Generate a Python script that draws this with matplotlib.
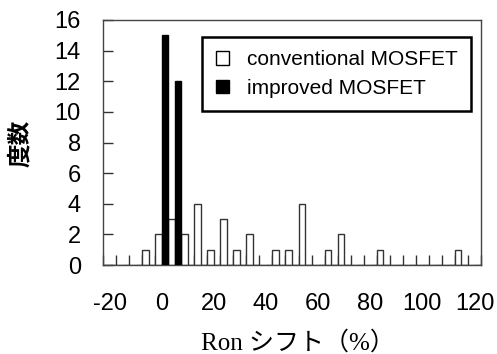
import matplotlib.pyplot as plt
from matplotlib.patches import Patch
import numpy as np

# Ron shift bins (%), 5% wide, -20 .. 120
shift_bins = np.arange(-20, 121, 5)
conventional = [0, 0, 0, 1, 2, 3, 2, 4, 1, 3, 1, 2, 0, 1, 1, 4,
                0, 1, 2, 0, 0, 1, 0, 0, 0, 0, 0, 1, 0]
improved = [0, 0, 0, 0, 15, 12, 0, 0, 0, 0, 0, 0, 0, 0, 0, 0,
            0, 0, 0, 0, 0, 0, 0, 0, 0, 0, 0, 0, 0]
x_labels = [-20, 0, 20, 40, 60, 80, 100, 120]
y_ticks = [0, 2, 4, 6, 8, 10, 12, 14, 16]

fig = plt.figure(figsize=(4.97, 3.54), dpi=100)
ax = fig.add_axes([103/497, 1 - 265/354, 378/497, 245/354])

step = 5
w = step / 2
ax.bar(shift_bins - w/2, conventional, width=w, facecolor='white',
       edgecolor='#333333', linewidth=1, zorder=2)
ax.bar(shift_bins + w/2, improved, width=w, facecolor='black',
       edgecolor='black', linewidth=1, zorder=3)

ax.set_xlim(shift_bins[0] - w, shift_bins[-1] + w)
ax.set_ylim(0, 16)

# tick marks between bins, pointing inwards
ax.set_xticks(np.append(shift_bins - w, shift_bins[-1] + w))
ax.tick_params(axis='x', which='major', direction='in', length=7,
               width=1, color='#333333', labelbottom=False)
# labels every 20 %, no tick line
ax.set_xticks(x_labels, minor=True)
ax.set_xticklabels([str(v) for v in x_labels], minor=True,
                   family='Liberation Sans', fontsize=17)
ax.tick_params(axis='x', which='minor', length=0, pad=20)

ax.set_yticks(y_ticks)
ax.set_yticklabels([str(v) for v in y_ticks], family='Liberation Sans',
                   fontsize=17)
ax.tick_params(axis='y', direction='in', length=7, width=1,
               color='#333333', pad=16)

for s in ax.spines.values():
    s.set_color('#444444')
    s.set_linewidth(1)

handles = [Patch(facecolor='white', edgecolor='black', linewidth=1),
           Patch(facecolor='black', edgecolor='black')]
leg = ax.legend(handles, ['conventional MOSFET', 'improved MOSFET'],
                loc='upper right', bbox_to_anchor=(0.973, 0.931),
                borderaxespad=0, fancybox=False, framealpha=1,
                prop={'family': 'Liberation Sans', 'size': 15},
                handlelength=0.63, handleheight=0.63, handletextpad=0.85,
                labelspacing=0.45, borderpad=0.65)
leg.get_frame().set_edgecolor('black')
leg.get_frame().set_linewidth(1.8)

fig.text(298/497, 1 - 343/354, 'Ron シフト（%）', ha='center', va='center',
         family=['Liberation Serif', 'Noto Sans CJK JP'], fontsize=18)
fig.text(20/497, 1 - 143/354, '度数', ha='center', va='center', rotation=90,
         family=['Noto Sans CJK JP'], fontweight='bold', fontsize=17)

fig.savefig('out.png', dpi=100)
